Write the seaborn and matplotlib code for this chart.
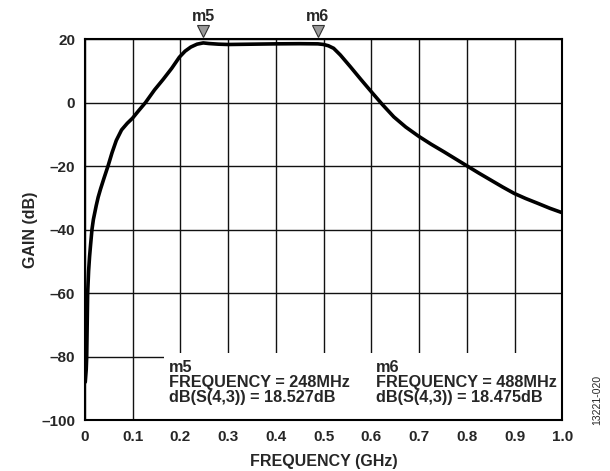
import matplotlib
matplotlib.use("Agg")
import matplotlib.pyplot as plt
import seaborn as sns
import pandas as pd
from matplotlib.patches import Rectangle

freq_ghz = [0.001, 0.003, 0.004, 0.005, 0.006, 0.008, 0.010, 0.012, 0.015, 0.018,
            0.021, 0.024, 0.028, 0.033, 0.040, 0.049, 0.057, 0.066, 0.077, 0.089,
            0.100, 0.113, 0.127, 0.146, 0.164, 0.182, 0.198, 0.210, 0.222, 0.235,
            0.248, 0.260, 0.280, 0.300, 0.350, 0.400, 0.450, 0.488, 0.500, 0.510,
            0.521, 0.535, 0.556, 0.578, 0.600, 0.623, 0.647, 0.672, 0.699, 0.725,
            0.752, 0.777, 0.801, 0.825, 0.850, 0.875, 0.899, 0.923, 0.948, 0.974,
            1.000]
gain_db = [-88.0, -84.0, -80.0, -70.0, -60.0, -53.0, -48.5, -45.0, -40.0, -36.8,
           -34.6, -32.4, -29.8, -27.2, -23.9, -19.8, -15.8, -11.9, -8.6, -6.5,
           -4.9, -2.5, 0.0, 4.0, 7.3, 10.8, 14.3, 16.2, 17.5, 18.4,
           18.8, 18.6, 18.4, 18.3, 18.4, 18.5, 18.55, 18.5, 18.3, 17.9,
           17.1, 15.0, 11.3, 7.3, 3.4, -0.6, -4.5, -7.7, -10.6, -13.1,
           -15.5, -17.8, -20.0, -22.2, -24.4, -26.6, -28.6, -30.2, -31.7, -33.3,
           -34.7]

x_ticks = [0, 0.1, 0.2, 0.3, 0.4, 0.5, 0.6, 0.7, 0.8, 0.9, 1.0]
x_tick_labels = ["0", "0.1", "0.2", "0.3", "0.4", "0.5", "0.6", "0.7", "0.8", "0.9", "1.0"]
y_ticks = [20, 0, -20, -40, -60, -80, -100]
y_tick_labels = ["20", "0", "–20", "–40", "–60", "–80", "–100"]

marker_names = ["m5", "m6"]
marker_freq = [0.248, 0.488]
marker_text = ["m5\nFREQUENCY = 248MHz\ndB(S(4,3)) = 18.527dB",
               "m6\nFREQUENCY = 488MHz\ndB(S(4,3)) = 18.475dB"]
marker_text_x = [0.177, 0.610]

sns.set_style("white")
plt.rcParams['font.family'] = ['Liberation Sans', 'DejaVu Sans']
plt.rcParams['font.weight'] = 'bold'

df = pd.DataFrame({"freq": freq_ghz, "gain": gain_db})

fig = plt.figure(figsize=(6.10, 4.71), dpi=100)
ax = fig.add_axes([0.139, 0.108, 0.783, 0.809])

ax.set_xlim(0, 1.0)
ax.set_ylim(-100, 20)
ax.set_xticks(x_ticks)
ax.set_xticklabels(x_tick_labels, fontsize=11, fontweight='bold')
ax.set_yticks(y_ticks)
ax.set_yticklabels(y_tick_labels, fontsize=11, fontweight='bold')
ax.tick_params(length=0, pad=7)
ax.grid(True, color='#111111', linewidth=1.0, zorder=1)
ax.set_axisbelow(True)

# White annotation box covering lower grid
ax.add_patch(Rectangle((0.166, -100), 0.834, 21, facecolor='white', edgecolor='none', zorder=2))

sns.lineplot(data=df, x="freq", y="gain", ax=ax, color='black', linewidth=2.6, zorder=3)

for s in ax.spines.values():
    s.set_color('black')
    s.set_linewidth(1.5)
    s.set_zorder(5)

ax.set_xlabel("FREQUENCY (GHz)", fontsize=11.5, fontweight='bold', labelpad=7)
ax.set_ylabel("GAIN (dB)", fontsize=11.5, fontweight='bold', labelpad=2)

for name, f, txt, tx in zip(marker_names, marker_freq, marker_text, marker_text_x):
    ax.plot([f], [22.6], marker='v', markersize=8.5, markerfacecolor='#999999',
            markeredgecolor='#333333', markeredgewidth=0.8, clip_on=False, zorder=6)
    ax.text(f, 24.8, name, ha='center', va='bottom', fontsize=11.5, fontweight='bold')
    ax.text(tx, -81.0, txt, ha='left', va='top', fontsize=11.7, fontweight='bold',
            linespacing=1.02, zorder=4)

fig.text(0.979, 0.15, "13221-020", rotation=90, fontsize=7.5, fontweight='normal',
         ha='center', va='center')

fig.savefig("out.png", dpi=100)
